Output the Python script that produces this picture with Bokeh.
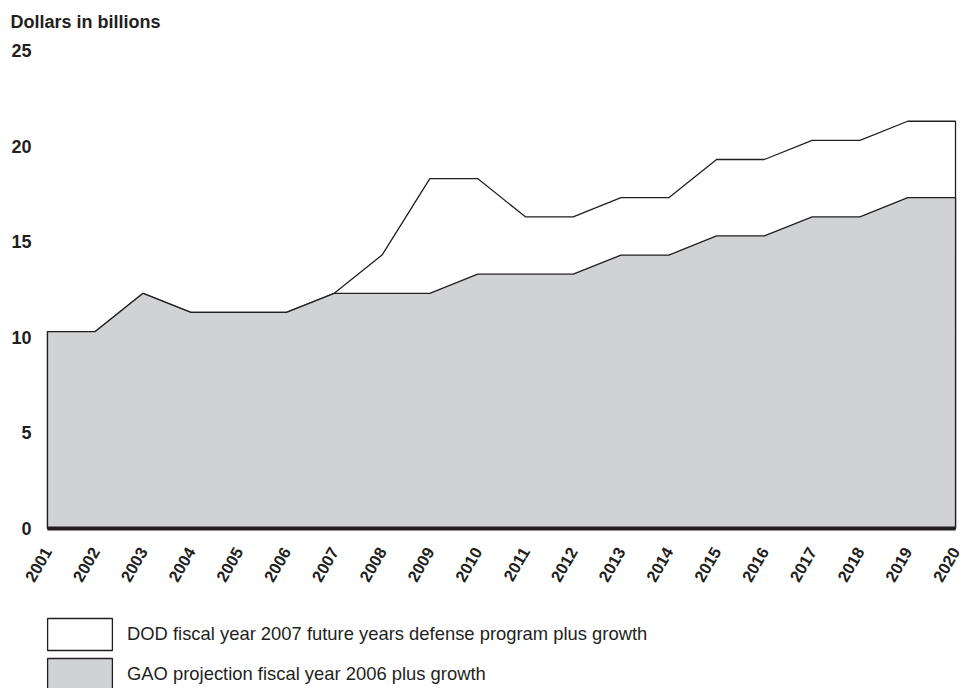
from bokeh.plotting import figure
from bokeh.models import (Range1d, LinearAxis, FixedTicker, Legend, LegendItem, Label)
from bokeh.embed import file_html
from bokeh.resources import INLINE

years = list(range(2001, 2021))
gao = [10.3, 10.3, 12.3, 11.3, 11.3, 11.3, 12.3, 12.3, 12.3, 13.3,
       13.3, 13.3, 14.3, 14.3, 15.3, 15.3, 16.3, 16.3, 17.3, 17.3]
dod = [10.3, 10.3, 12.3, 11.3, 11.3, 11.3, 12.3, 14.3, 18.3, 18.3,
       16.3, 16.3, 17.3, 17.3, 19.3, 19.3, 20.3, 20.3, 21.3, 21.3]
y_ticks = [0, 5, 10, 15, 20, 25]
dod_label = "DOD fiscal year 2007 future years defense program plus growth"
gao_label = "GAO projection fiscal year 2006 plus growth"
y_title = "Dollars in billions"

INK = "#231f20"
GRAY = "#d1d2d4"
FONT = "Liberation Sans"

p = figure(width=964, height=688,
           x_range=Range1d(2000.0166, 2020.188), y_range=Range1d(-8.368, 27.615),
           output_backend="svg", toolbar_location=None,
           x_axis_location=None, y_axis_location=None,
           min_border_left=0, min_border_right=0, min_border_top=0,
           min_border_bottom=0)
p.outline_line_color = None
p.background_fill_color = "white"
p.border_fill_color = "white"
p.xgrid.grid_line_color = None
p.ygrid.grid_line_color = None

zeros = [0] * len(years)
xs = years + years[::-1]
dod_r = p.patch(xs, dod + zeros[::-1], fill_color="white", line_color=INK, line_width=1.3)
gao_r = p.patch(xs, gao + zeros[::-1], fill_color=GRAY, line_color=INK, line_width=1.3)
p.line(years, zeros, line_color=INK, line_width=4)

yaxis = LinearAxis(ticker=FixedTicker(ticks=y_ticks), fixed_location=years[0])
yaxis.axis_line_color = None
yaxis.major_tick_line_color = None
yaxis.minor_tick_line_color = None
yaxis.major_tick_out = 0
yaxis.major_tick_in = 0
yaxis.major_label_standoff = 16
yaxis.major_label_text_font = FONT
yaxis.major_label_text_font_style = "bold"
yaxis.major_label_text_font_size = "18px"
yaxis.major_label_text_color = INK
p.add_layout(yaxis, "left")

xaxis = LinearAxis(ticker=FixedTicker(ticks=years), fixed_location=0)
xaxis.major_label_overrides = {y: str(y) for y in years}
xaxis.axis_line_color = None
xaxis.major_tick_line_color = None
xaxis.minor_tick_line_color = None
xaxis.major_tick_out = 0
xaxis.major_tick_in = 0
xaxis.major_label_orientation = 1.047
xaxis.major_label_standoff = 20
xaxis.major_label_text_font = FONT
xaxis.major_label_text_font_style = "bold"
xaxis.major_label_text_font_size = "16.5px"
xaxis.major_label_text_color = INK
p.add_layout(xaxis, "below")

title = Label(x=2000.2258, y=26.5, text=y_title, text_font=FONT,
              text_font_style="bold", text_font_size="18px",
              text_color=INK, text_align="left", text_baseline="alphabetic")
p.add_layout(title)

legend = Legend(items=[LegendItem(label=dod_label, renderers=[dod_r]),
                       LegendItem(label=gao_label, renderers=[gao_r])],
                location=(-6 + 45, -6), orientation="vertical",
                glyph_width=81, glyph_height=40, spacing=0, label_standoff=7,
                padding=0, margin=0, border_line_color=None,
                background_fill_alpha=0, label_height=40,
                label_text_font=FONT, label_text_font_size="18.4px",
                label_text_color=INK)
p.add_layout(legend)

open("out.html", "w").write(file_html(p, INLINE))
